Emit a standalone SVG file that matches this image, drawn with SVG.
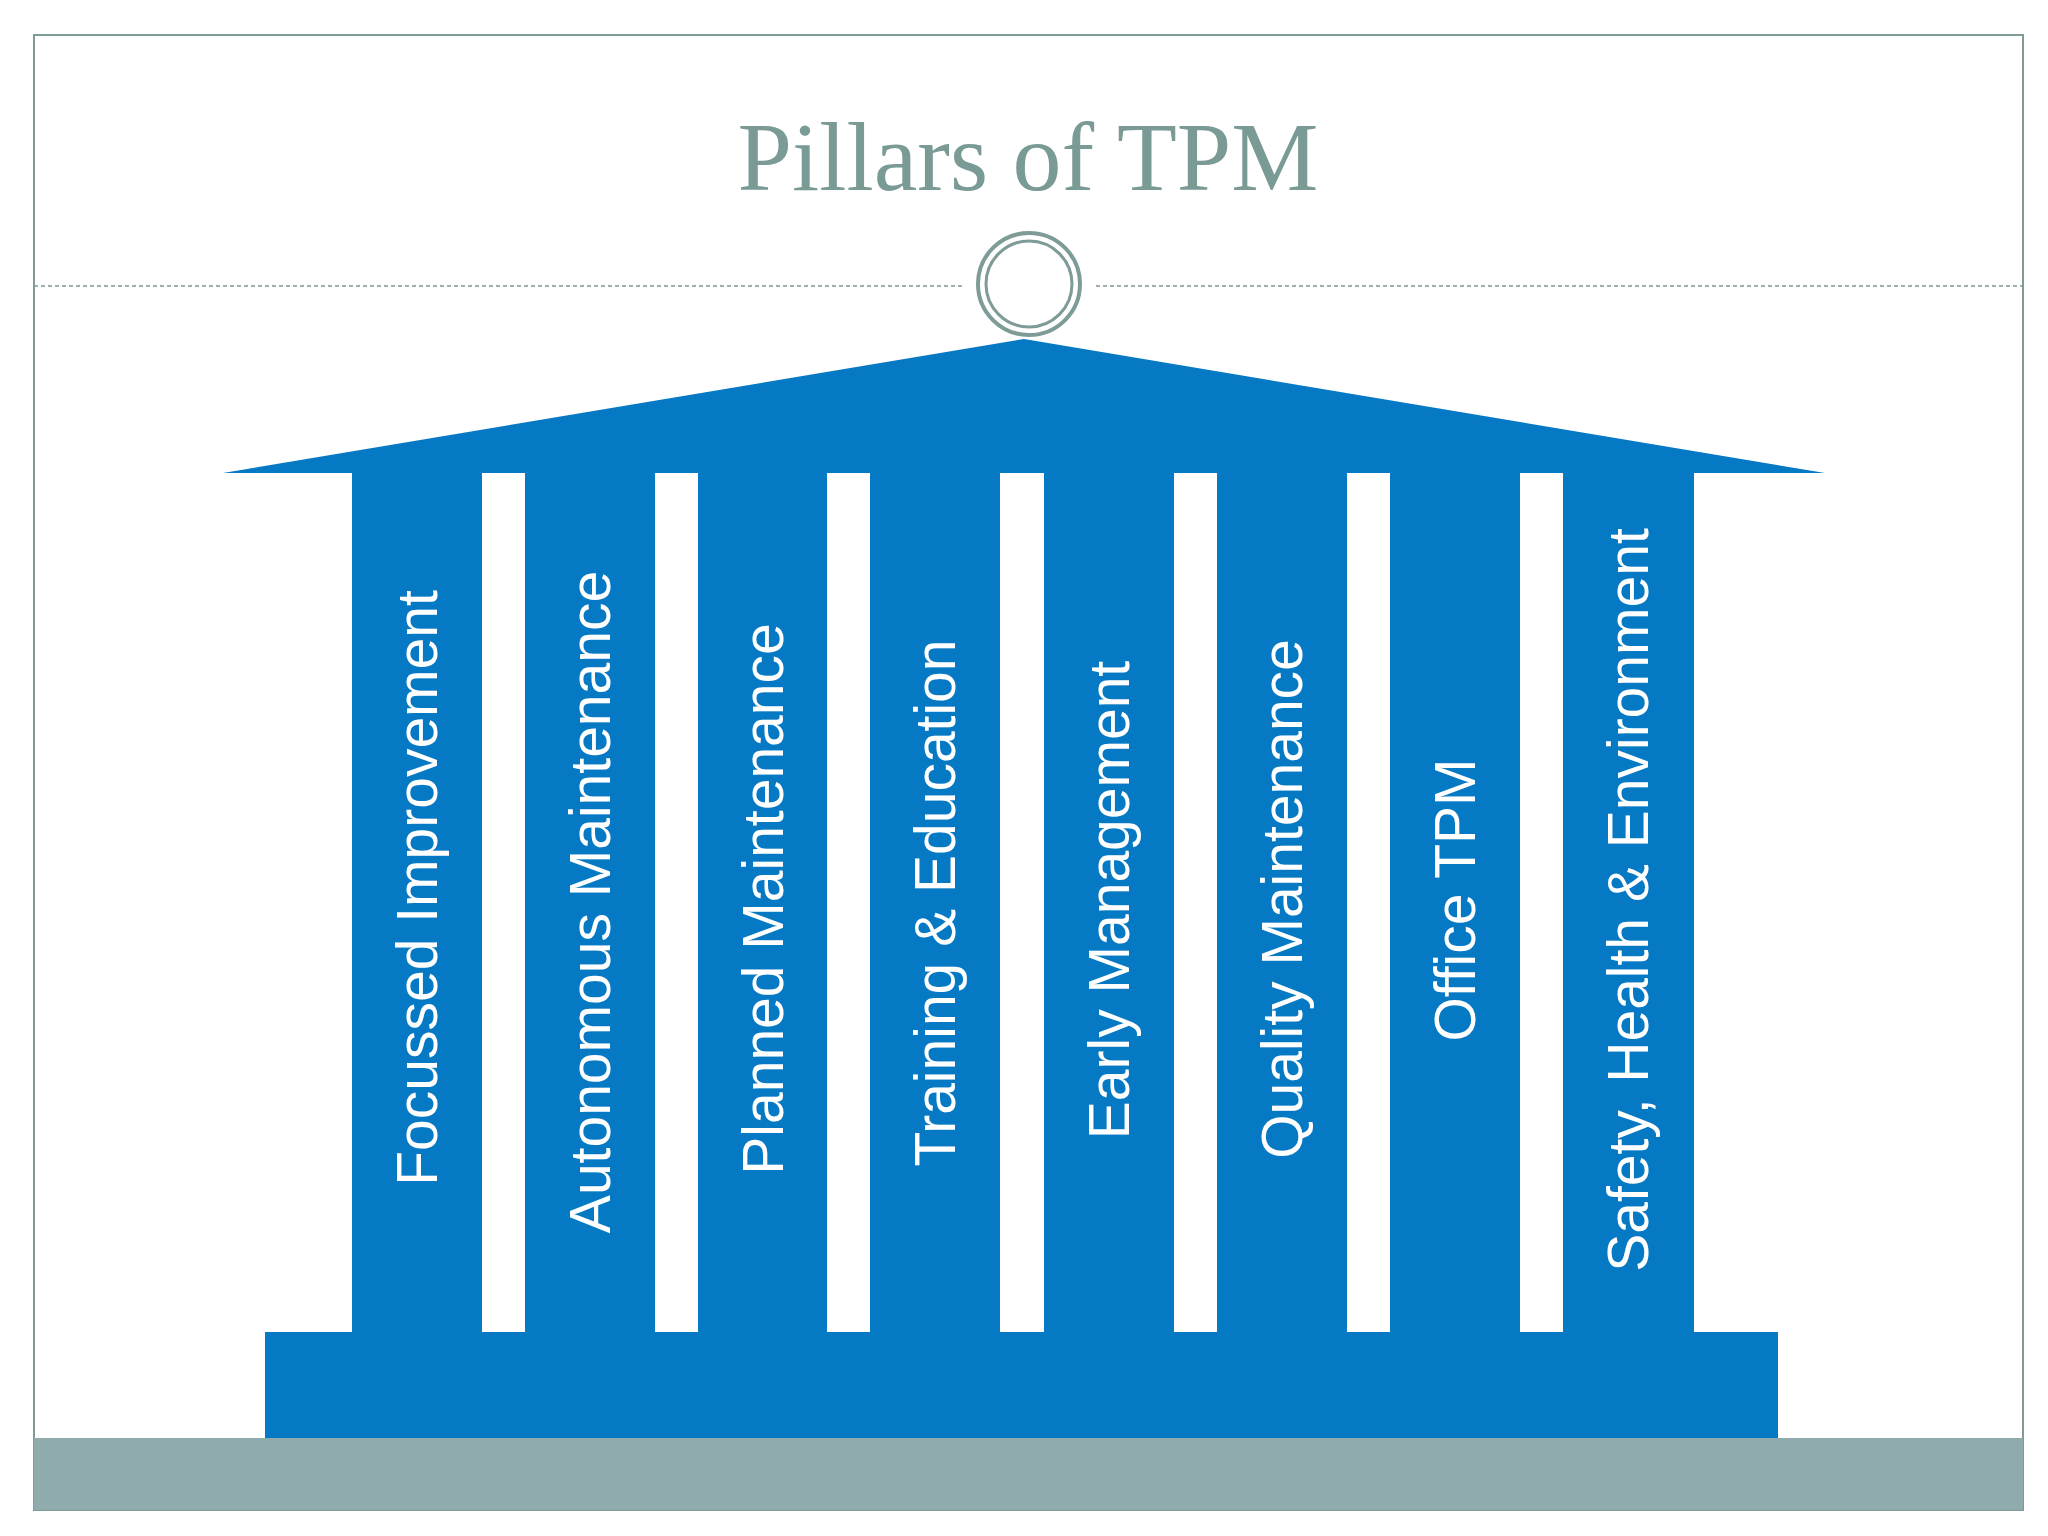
<svg xmlns="http://www.w3.org/2000/svg" width="2048" height="1536" viewBox="0 0 2048 1536">
<style>
.b{fill:#0579c4}
.g{fill:#fff}
.t{font-family:"Liberation Sans",Arial,sans-serif;font-size:57px;fill:#fff;text-anchor:middle;dominant-baseline:central}
</style>
<rect width="2048" height="1536" fill="#fff"/>
<rect x="34" y="35" width="1989" height="1475" fill="none" stroke="#7f9b98" stroke-width="2"/>
<text x="1028" y="190" font-family="'Liberation Serif',serif" font-size="98" fill="#7a9a96" text-anchor="middle">Pillars of TPM</text>
<line x1="34" y1="286" x2="965" y2="286" stroke="#7f9b98" stroke-width="1.5" stroke-dasharray="4,3"/>
<line x1="1096" y1="286" x2="2023" y2="286" stroke="#7f9b98" stroke-width="1.5" stroke-dasharray="4,3"/>
<circle cx="1029" cy="284" r="51" fill="#fff" stroke="#7f9b98" stroke-width="4"/>
<circle cx="1029" cy="284" r="43" fill="#fff" stroke="#7f9b98" stroke-width="3"/>
<g id="temple">
<polygon class="b" points="1024,339 1825,473 223,473"/>
<rect class="b" x="352" y="472" width="1342" height="862"/>
<rect class="b" x="265" y="1332" width="1513" height="108"/>
<rect class="g" x="482" y="473" width="43" height="859"/>
<rect class="g" x="655" y="473" width="43" height="859"/>
<rect class="g" x="827" y="473" width="43" height="859"/>
<rect class="g" x="1000" y="473" width="44" height="859"/>
<rect class="g" x="1174" y="473" width="43" height="859"/>
<rect class="g" x="1347" y="473" width="43" height="859"/>
<rect class="g" x="1520" y="473" width="43" height="859"/>
</g>
<rect x="34" y="1438" width="1989" height="72" fill="#8fabab"/>
<g id="p1"><text class="t" transform="translate(417,888) rotate(-90)">Focussed Improvement</text></g>
<g id="p2"><text class="t" transform="translate(590,902) rotate(-90)">Autonomous Maintenance</text></g>
<g id="p3"><text class="t" transform="translate(763,899) rotate(-90)">Planned Maintenance</text></g>
<g id="p4"><text class="t" transform="translate(935,903) rotate(-90)">Training &amp; Education</text></g>
<g id="p5"><text class="t" transform="translate(1109,900) rotate(-90)">Early Management</text></g>
<g id="p6"><text class="t" transform="translate(1282,899) rotate(-90)">Quality Maintenance</text></g>
<g id="p7"><text class="t" transform="translate(1455,900) rotate(-90)">Office TPM</text></g>
<g id="p8"><text class="t" transform="translate(1628,900) rotate(-90)">Safety, Health &amp; Environment</text></g>
</svg>
